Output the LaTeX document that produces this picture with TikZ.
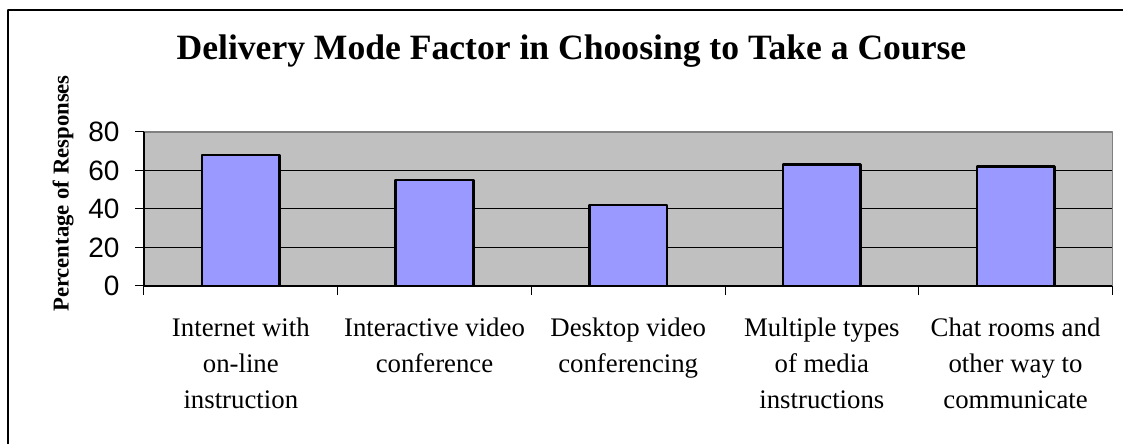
\documentclass[tikz,border=0pt]{standalone}
\usepackage{fontspec}
\setmainfont{Liberation Serif}
\newfontfamily\arialfont{Liberation Sans}
\usepackage{tkz-euclide}
\definecolor{plotgray}{HTML}{C0C0C0}
\definecolor{edgegray}{HTML}{808080}
\definecolor{barblue}{HTML}{9999FF}

\begin{document}
\begin{tikzpicture}[x=96.85pt,y=0.9625pt,line join=round,
    bar/.style={draw=black,line width=1.3pt,fill=barblue},
    ylab/.style={anchor=east,inner sep=0pt,font=\arialfont\fontsize{14pt}{16pt}\selectfont},
    catlab/.style={anchor=north,inner sep=0pt,align=center,font=\fontsize{13.4pt}{18pt}\selectfont}]
    \useasboundingbox (-0.7434,-82.08) rectangle (5.0547,148.57);
    \tkzDefPoints{0/0/O,5/0/X,5/80/Z,0/80/Y}
    \tkzDefPoints{-0.702/143.38/P,5.0547/143.38/Q,-0.702/-82.08/R}
    \tkzDrawSegments[line width=0.6pt](P,Q P,R)
    \tkzDrawPolygon[fill=plotgray,draw=edgegray,line width=0.8pt](O,X,Z,Y)
    \foreach \g in {20,40,60}
        \draw[line width=0.5pt] (0,\g) -- (5,\g);
    \foreach \v [count=\i] in {68,55,42,63,62}
        \draw[bar] (\i-0.7,0) rectangle (\i-0.3,\v);
    \draw[line width=0.6pt] (Y) -- (O) -- (X);
    \foreach \v in {0,20,...,80}{
        \draw[line width=0.5pt] (0,\v) -- (-0.0465,\v);
        \node[ylab] (L\v) at (-0.124,\v) {\v};}
    \foreach \i in {0,...,5}
        \draw[line width=0.5pt] (\i,0) -- (\i,-4.68);
    \node[catlab] (A) at (0.5,-16.5) {Internet with\\on-line\\instruction};
    \node[catlab] (B) at (1.5,-16.5) {Interactive video\\conference};
    \node[catlab] (C) at (2.5,-16.5) {Desktop video\\conferencing};
    \node[catlab] (D) at (3.5,-16.5) {Multiple types\\of media\\instructions};
    \node[catlab] (E) at (4.5,-16.5) {Chat rooms and\\other way to\\communicate};
    \node[anchor=base,font=\bfseries\fontsize{17.8pt}{20pt}\selectfont] (T) at (2.207,117.4)
        {Delivery Mode Factor in Choosing to Take a Course};
    \node[rotate=90,font=\bfseries\fontsize{11.35pt}{13pt}\selectfont] (V) at (-0.418,48.05)
        {Percentage of Responses};
\end{tikzpicture}
\end{document}
